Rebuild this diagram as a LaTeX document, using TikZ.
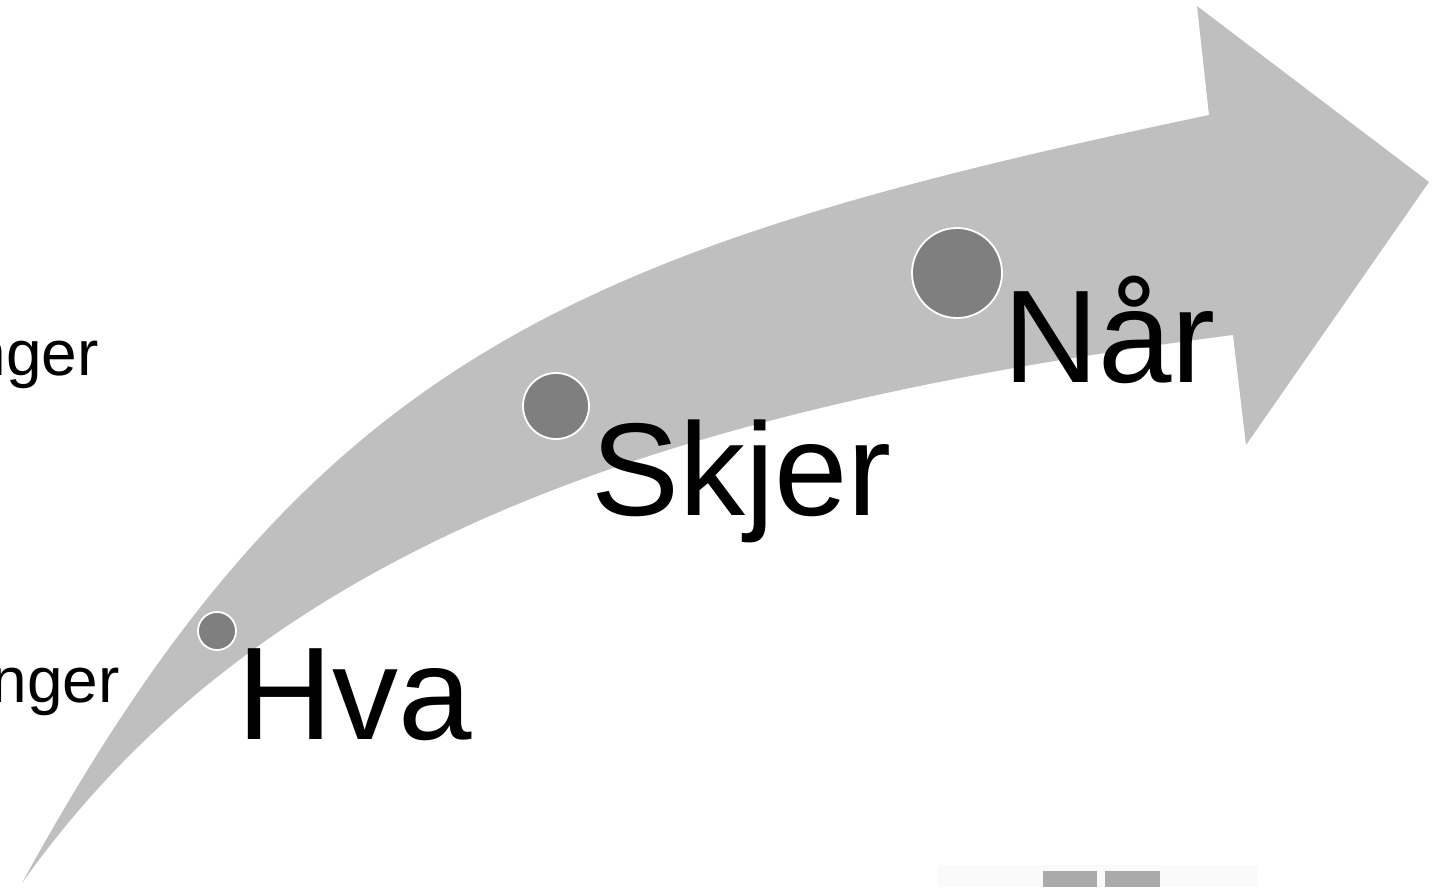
\documentclass[tikz,border=0pt]{standalone}
\usepackage{fontspec}
\setmainfont{Liberation Sans}
\definecolor{arrowgray}{RGB}{191,191,191}
\definecolor{dotgray}{RGB}{127,127,127}
\definecolor{blockgray}{RGB}{168,170,172}
\definecolor{faintgray}{RGB}{250,250,250}
\begin{document}
\begin{tikzpicture}[x=1pt,y=-1pt,
  dot/.style={circle,fill=dotgray,draw=white,line width=1.8pt,inner sep=0pt},
  bigword/.style={anchor=base west,inner sep=0pt,font=\fontsize{132}{132}\selectfont},
  sideword/.style={anchor=base east,inner sep=0pt,font=\fontsize{64}{64}\selectfont}]
\useasboundingbox (0,0) rectangle (1435,887);
\clip (0,0) rectangle (1435,887);
% faint background block and grey blocks at bottom
\fill[faintgray] (938,865) rectangle (1257,887);
\fill[blockgray] (1043,871) rectangle (1097,887);
\fill[blockgray] (1105,871) rectangle (1160,887);
% curved arrow
\coordinate (tail) at (22,883);
\coordinate (us) at (1209,115);
\coordinate (bt) at (1197,6);
\coordinate (tip) at (1429,182);
\coordinate (bb) at (1246,445);
\coordinate (ls) at (1233,335);
\fill[arrowgray] (tail) .. controls (310,357) and (573,249) .. (us)
  -- (bt) -- (tip) -- (bb) -- (ls)
  .. controls (638,411) and (254,557) .. (tail) -- cycle;
% dots
\node[dot,minimum size=38pt] (d1) at (217,631) {};
\node[dot,minimum size=66pt] (d2) at (556,406) {};
\node[dot,minimum size=90pt] (d3) at (957,273) {};
% words
\node[bigword] (hva) at (237,739) {Hva};
\node[bigword] (skjer) at (591,515) {Skjer};
\node[bigword] (naar) at (1003,382) {Når};
% cut-off side words
\node[sideword] (s1) at (99,375) {nger};
\node[sideword] (s2) at (120,702) {nger};
\end{tikzpicture}
\end{document}
